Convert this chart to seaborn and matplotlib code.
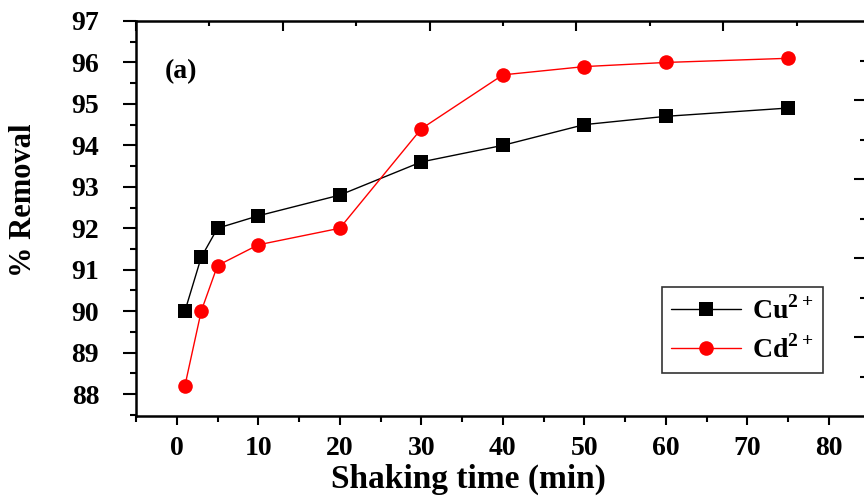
import numpy as np
import pandas as pd
import seaborn as sns
from matplotlib import pyplot as plt
from matplotlib.ticker import MultipleLocator, FixedLocator

# shaking time (min) and % removal
time = [1, 3, 5, 10, 20, 30, 40, 50, 60, 75]
cu_removal = [90.0, 91.3, 92.0, 92.3, 92.8, 93.6, 94.0, 94.5, 94.7, 94.9]
cd_removal = [88.2, 90.0, 91.1, 91.6, 92.0, 94.4, 95.7, 95.9, 96.0, 96.1]
ions = ["Cu", "Cd"]
ion_labels = [r"Cu$^{\mathbf{2+}}$", r"Cd$^{\mathbf{2+}}$"]
x_ticks = [0, 10, 20, 30, 40, 50, 60, 70, 80]
y_ticks = [88, 89, 90, 91, 92, 93, 94, 95, 96, 97]

df = pd.DataFrame({
    "time": time * 2,
    "removal": cu_removal + cd_removal,
    "ion": ["Cu"] * len(time) + ["Cd"] * len(time),
})

sns.set_style("ticks")
plt.rcParams["font.family"] = ["Liberation Serif", "DejaVu Serif"]
plt.rcParams["font.weight"] = "bold"
plt.rcParams["mathtext.fontset"] = "custom"
plt.rcParams["mathtext.rm"] = "Liberation Serif"
plt.rcParams["mathtext.bf"] = "Liberation Serif:bold"
for key in ["text.color", "axes.labelcolor", "xtick.color", "ytick.color", "axes.edgecolor"]:
    plt.rcParams[key] = "black"

fig = plt.figure(figsize=(8.64, 4.96), dpi=100)
ax = fig.add_axes([136 / 864, 1 - 416 / 496, 728 / 864, 395 / 496])

sns.lineplot(data=df, x="time", y="removal", hue="ion", style="ion",
             hue_order=ions, style_order=ions,
             palette={"Cu": "black", "Cd": "red"},
             markers={"Cu": "s", "Cd": "o"}, dashes=False,
             markersize=10.5, markeredgewidth=0, linewidth=1, ax=ax, legend=False)

ax.set_xlim(-5, 84.3)
ax.set_ylim(87.47, 97)
ax.xaxis.set_major_locator(FixedLocator(x_ticks))
ax.xaxis.set_minor_locator(MultipleLocator(5))
ax.yaxis.set_major_locator(FixedLocator(y_ticks))
ax.yaxis.set_minor_locator(MultipleLocator(0.5))
ax.tick_params(axis="y", which="major", length=9.5, width=1.5, pad=17, labelsize=20)
ax.tick_params(axis="y", which="minor", length=4.5, width=1.5)
ax.tick_params(axis="x", which="major", length=6.5, width=1.5, pad=8, labelsize=20)
ax.tick_params(axis="x", which="minor", length=4, width=1.5)
for lab in ax.get_xticklabels() + ax.get_yticklabels():
    lab.set_fontweight("bold")

ax.set_xlabel("Shaking time (min)", fontsize=24, fontweight="bold")
ax.set_ylabel("% Removal", fontsize=22, fontweight="bold")
ax.xaxis.set_label_coords(0.457, -0.122)
ax.yaxis.set_label_coords(-0.135, 0.547)
ax.spines["right"].set_visible(False)
for s in ["left", "bottom", "top"]:
    ax.spines[s].set_linewidth(1.8)

ax.text(0.04, 0.855, "(a)", transform=ax.transAxes, fontsize=20, fontweight="bold")

# top axis ticks (inward)
top = ax.twiny()
top.set_xlim(0, 728 / 146.8)
top.xaxis.set_major_locator(MultipleLocator(1))
top.xaxis.set_minor_locator(MultipleLocator(0.5))
top.tick_params(axis="x", which="major", direction="in", length=7, width=1.5, labeltop=False)
top.tick_params(axis="x", which="minor", direction="in", length=3.5, width=1.5)
for s in top.spines.values():
    s.set_visible(False)

# ticks of the neighbouring panel at the right edge
side = ax.twinx()
side.set_ylim(0, 5)
side.yaxis.set_major_locator(FixedLocator([1, 2, 3, 4]))
side.yaxis.set_minor_locator(FixedLocator([0.5, 1.5, 2.5, 3.5, 4.5]))
side.tick_params(axis="y", which="major", direction="in", length=7, width=1.5, labelright=False)
side.tick_params(axis="y", which="minor", direction="in", length=3, width=1.5)
for s in side.spines.values():
    s.set_visible(False)

handles = [
    plt.Line2D([], [], color="black", marker="s", markersize=10.5, linewidth=1, markeredgewidth=0),
    plt.Line2D([], [], color="red", marker="o", markersize=10.5, linewidth=1, markeredgewidth=0),
]
leg = ax.legend(handles, ion_labels, loc="lower right", bbox_to_anchor=(0.944, 0.109),
                borderaxespad=0, frameon=True, fancybox=False, edgecolor="black",
                prop={"size": 20, "weight": "bold"}, handlelength=2.5,
                handletextpad=0.4, labelspacing=0.35, borderpad=0.35)
leg.get_frame().set_linewidth(1.2)

plt.savefig("out.png", dpi=100)
